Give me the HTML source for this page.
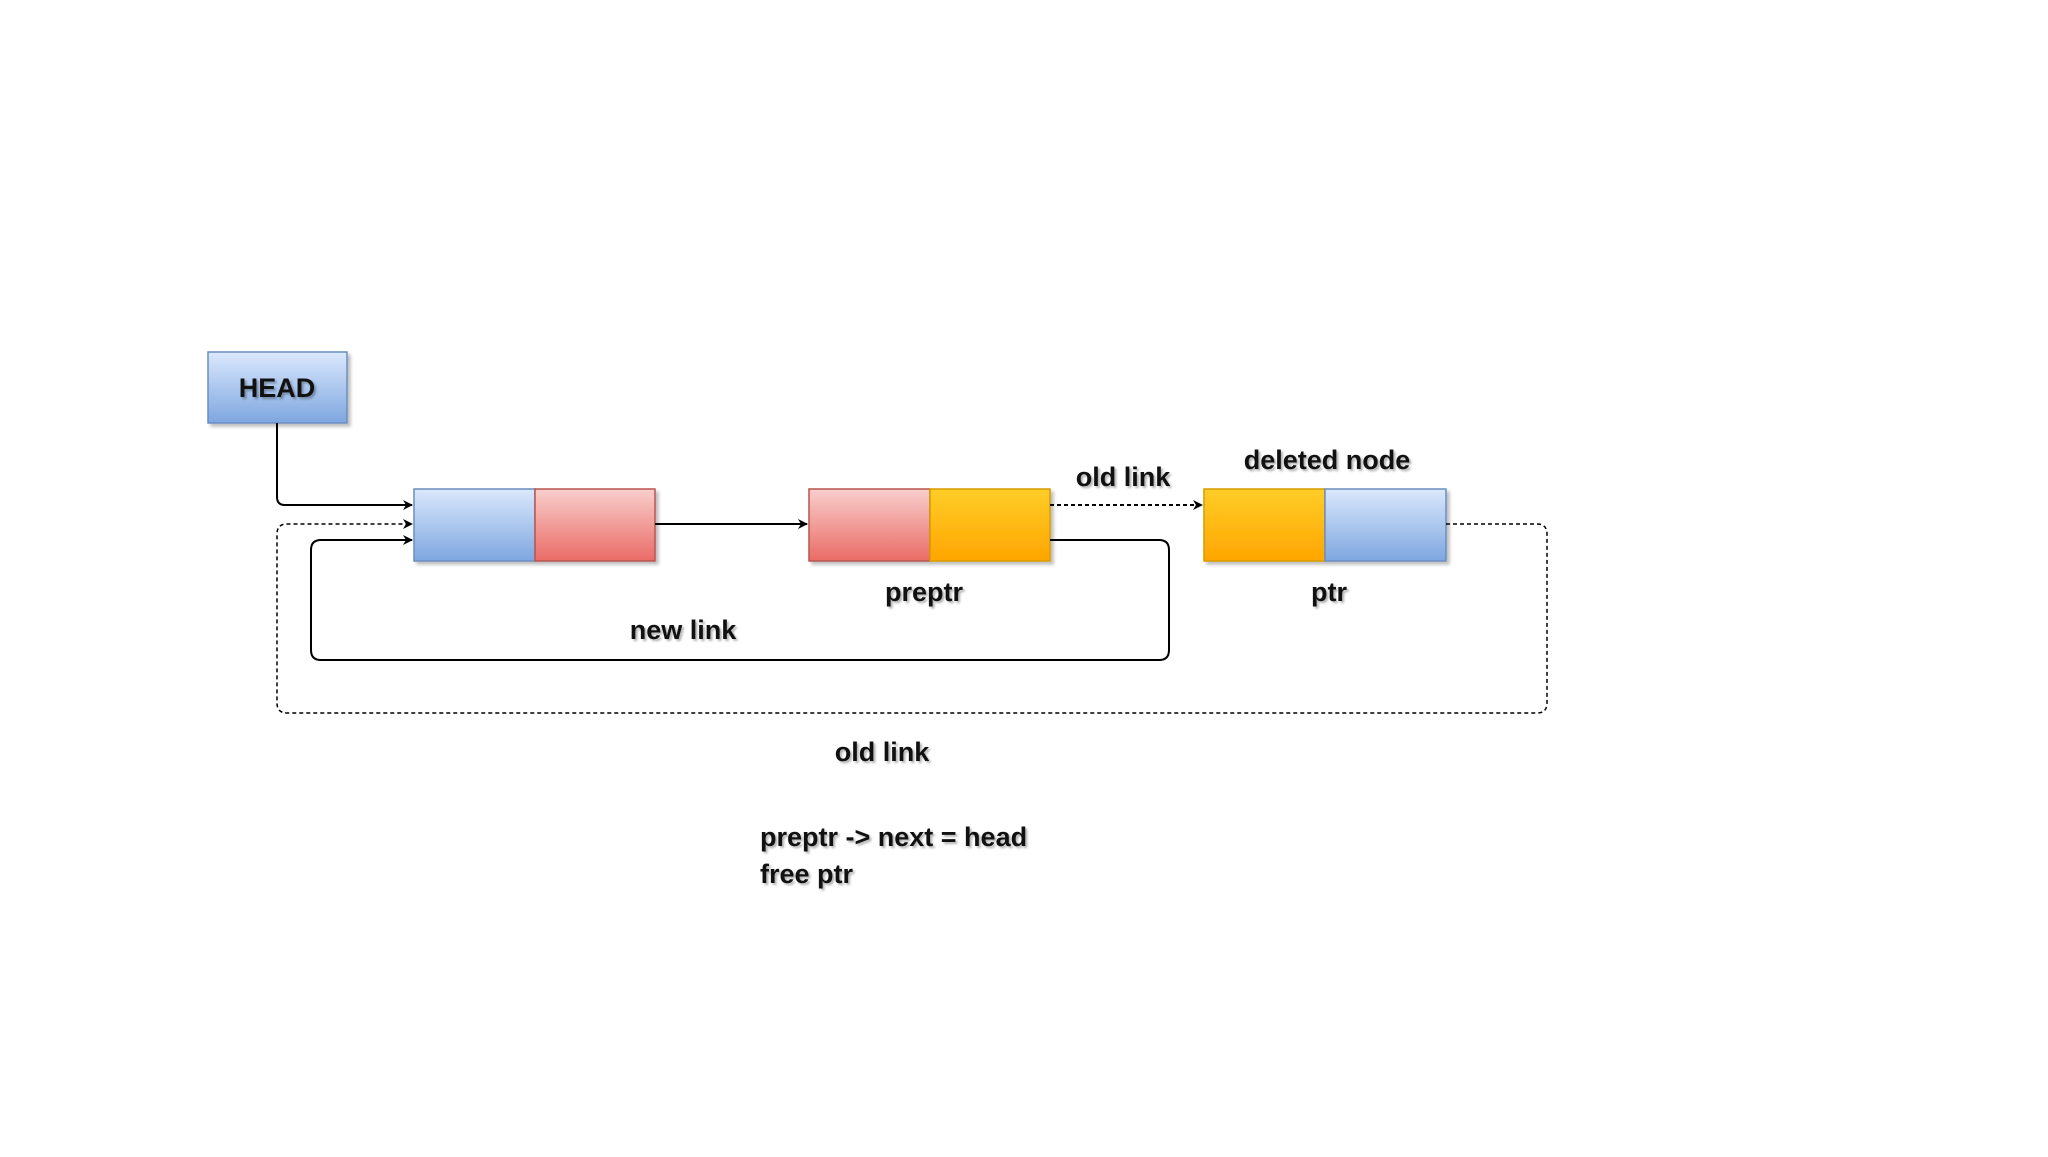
<!DOCTYPE html>
<html><head><meta charset="utf-8"><style>
body{margin:0;background:#fff;width:2048px;height:1152px;overflow:hidden;font-family:"Liberation Sans",sans-serif}
</style></head><body>
<svg width="2048" height="1152" viewBox="0 0 2048 1152" xmlns="http://www.w3.org/2000/svg">
<defs>
<linearGradient id="b" x1="0" y1="0" x2="0" y2="1"><stop offset="0" stop-color="#dae8fc"/><stop offset="1" stop-color="#7ea6e0"/></linearGradient>
<linearGradient id="r" x1="0" y1="0" x2="0" y2="1"><stop offset="0" stop-color="#f8cecc"/><stop offset="1" stop-color="#ea6b66"/></linearGradient>
<linearGradient id="o" x1="0" y1="0" x2="0" y2="1"><stop offset="0" stop-color="#ffcd28"/><stop offset="1" stop-color="#ffa500"/></linearGradient>
<marker id="a" markerWidth="10" markerHeight="10" refX="9" refY="5" orient="auto" markerUnits="userSpaceOnUse"><path d="M0,0 L10,5 L0,10 L3,5 Z" fill="#000"/></marker>
<filter id="s"><feDropShadow dx="3" dy="3" stdDeviation="1.5" flood-color="#000" flood-opacity="0.25"/></filter>
</defs>
<g filter="url(#s)" stroke-width="1.5">
<rect x="208" y="352" width="139" height="71" fill="url(#b)" stroke="#6c8ebf"/>
<rect x="414" y="489" width="121" height="72" fill="url(#b)" stroke="#6c8ebf"/>
<rect x="535" y="489" width="120" height="72" fill="url(#r)" stroke="#b85450"/>
<rect x="809" y="489" width="121" height="72" fill="url(#r)" stroke="#b85450"/>
<rect x="930" y="489" width="120" height="72" fill="url(#o)" stroke="#d79b00"/>
<rect x="1204" y="489" width="121" height="72" fill="url(#o)" stroke="#d79b00"/>
<rect x="1325" y="489" width="121" height="72" fill="url(#b)" stroke="#6c8ebf"/>
</g>
<g fill="none" stroke="#000" stroke-width="2">
<path d="M277,423 V497 Q277,505 285,505 H412" marker-end="url(#a)"/>
<path d="M655,524 H807" marker-end="url(#a)"/>
<path d="M1050,505 H1202" stroke-dasharray="4,3" marker-end="url(#a)"/>
<path d="M1050,540 H1159 Q1169,540 1169,550 V650 Q1169,660 1159,660 H321 Q311,660 311,650 V550 Q311,540 321,540 H412" marker-end="url(#a)"/>
<path d="M1446,524 H1537 Q1547,524 1547,534 V703 Q1547,713 1537,713 H287 Q277,713 277,703 V534 Q277,524 287,524 H412" stroke-dasharray="4,3" stroke-width="1.5" marker-end="url(#a)"/>
</g>
<g font-family="Liberation Sans, sans-serif" font-weight="bold" font-size="27" fill="#111" style="text-shadow:2px 2px 2px rgba(0,0,0,0.3)">
<text x="277" y="397" text-anchor="middle">HEAD</text>
<text x="1123" y="486" text-anchor="middle">old link</text>
<text x="1327" y="469" text-anchor="middle">deleted node</text>
<text x="924" y="601" text-anchor="middle">preptr</text>
<text x="1329" y="601" text-anchor="middle">ptr</text>
<text x="683" y="639" text-anchor="middle">new link</text>
<text x="882" y="761" text-anchor="middle">old link</text>
<text x="760" y="846">preptr -&gt; next = head</text>
<text x="760" y="883">free ptr</text>
</g>
</svg>
</body></html>
